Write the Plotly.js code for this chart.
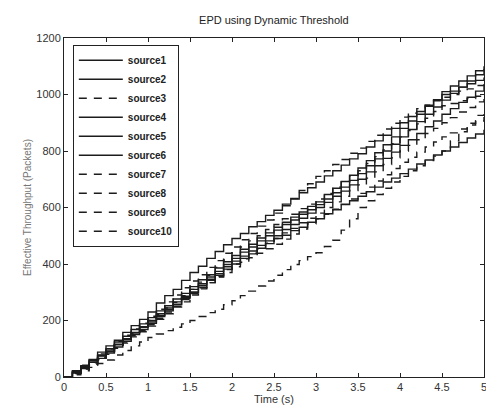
<!DOCTYPE html>
<html>
<head>
<meta charset="utf-8">
<script src="https://cdn.plot.ly/plotly-3.0.1.min.js"></script>
<style>html,body{margin:0;padding:0;background:#fff;}#chart{width:486px;height:410px;}</style>
</head>
<body>
<div id="chart"></div>
<script>
var time = [0,0.1,0.2,0.3,0.4,0.5,0.6,0.7,0.8,0.9,1,1.1,1.2,1.3,1.4,1.5,1.6,1.7,1.8,1.9,2,2.1,2.2,2.3,2.4,2.5,2.6,2.7,2.8,2.9,3,3.1,3.2,3.3,3.4,3.5,3.6,3.7,3.8,3.9,4,4.1,4.2,4.3,4.4,4.5,4.6,4.7,4.8,4.9,5];

var source1 = [0,18,40,62,88,110,130,158,182,204,230,262,288,310,342,370,392,420,444,468,490,508,532,550,572,590,612,630,652,670,690,712,730,750,772,790,814,836,856,880,900,922,940,962,980,1000,1012,1026,1038,1050,1060];
var source2 = [0,22,38,60,78,100,124,144,168,188,210,234,252,276,296,320,344,362,386,408,430,452,470,492,510,530,548,566,584,604,620,646,668,692,714,740,766,794,822,850,880,906,930,958,982,1010,1030,1048,1066,1084,1100];
var source3 = [0,12,30,50,70,90,112,134,154,178,200,222,244,264,288,310,336,360,388,414,440,460,482,500,522,540,560,576,596,612,630,650,672,690,712,730,756,780,804,826,850,872,896,916,940,960,968,978,986,994,1000];
var source4 = [0,14,36,52,74,90,114,132,158,176,200,224,244,266,286,310,330,354,374,398,420,442,460,482,500,520,540,556,576,592,610,630,652,672,696,720,748,772,800,824,850,876,904,930,956,980,1004,1026,1048,1070,1090];
var source5 = [0,20,34,58,76,95,116,136,156,178,195,218,238,258,282,300,324,346,366,390,410,428,446,466,482,500,522,540,562,580,600,618,640,658,680,700,726,748,774,796,820,840,862,886,906,930,950,972,990,1012,1030];
var source6 = [0,16,30,52,66,85,106,126,150,168,190,214,234,256,278,300,318,342,360,382,400,420,436,456,472,490,502,518,530,548,560,578,592,610,624,640,656,672,690,704,720,736,754,768,786,800,814,830,846,860,875];
var source7 = [0,20,42,58,82,100,126,148,170,190,215,240,266,290,316,340,362,388,412,438,460,486,508,534,556,580,606,632,660,684,710,730,752,770,792,810,834,856,878,898,920,934,950,962,978,990,1000,1012,1020,1032,1040];
var source8 = [0,12,28,42,62,80,102,120,142,160,180,204,224,248,266,290,312,334,356,380,400,418,438,454,474,490,510,526,546,562,580,600,620,640,660,680,704,726,752,776,800,820,840,862,880,900,918,938,954,974,990];
var source9 = [0,8,22,34,48,60,78,94,110,124,140,152,164,176,188,200,214,228,240,256,270,288,304,322,340,360,380,398,412,426,440,462,484,520,560,600,624,646,668,690,710,730,748,766,782,800,836,868,898,926,950];
var source10 = [0,14,30,46,68,85,104,124,146,164,185,208,230,250,274,295,316,334,354,370,390,406,422,438,454,470,488,506,524,542,560,576,594,612,630,650,672,694,716,738,760,778,796,814,832,850,864,878,892,906,920];

var seriesNames = ['source1','source2','source3','source4','source5','source6','source7','source8','source9','source10'];
var seriesValues = [source1,source2,source3,source4,source5,source6,source7,source8,source9,source10];
var seriesDash = ['solid','solid','dash','solid','solid','solid','dash','dash','dash','dash'];

var xTicks = [0,0.5,1,1.5,2,2.5,3,3.5,4,4.5,5];
var xTickText = ['0','0.5','1','1.5','2','2.5','3','3.5','4','4.5','5'];
var yTicks = [0,200,400,600,800,1000,1200];

var traces = seriesNames.map(function(n,i){
  return {
    x: time, y: seriesValues[i], name: n, type: 'scatter', mode: 'lines',
    line: {color: '#1c1c1c', width: 1.4, dash: seriesDash[i] === 'dash' ? '8px,7px' : 'solid', shape: 'hv'}
  };
});

var axisCommon = {
  showline: true, linecolor: '#222', linewidth: 1, mirror: 'ticks',
  ticks: 'inside', ticklen: 4, tickcolor: '#222', showgrid: false, zeroline: false,
  ticklabeloverflow: 'allow',
  tickfont: {family: 'Liberation Sans, Arial, sans-serif', size: 11, color: '#333'}
};

var layout = {
  width: 486, height: 410,
  margin: {l: 64, r: 2, t: 38, b: 33},
  paper_bgcolor: '#fff', plot_bgcolor: '#fff',
  title: {text: 'EPD using Dynamic Threshold', x: 0.5635, xanchor: 'center', y: 0.95, yanchor: 'middle',
          font: {family: 'Liberation Sans, Arial, sans-serif', size: 11, color: '#222'}},
  xaxis: Object.assign({}, axisCommon, {range: [0,5], tickvals: xTicks, ticktext: xTickText,
          title: {text: 'Time (s)', standoff: 2, font: {family: 'Liberation Sans, Arial, sans-serif', size: 11, color: '#333'}}}),
  yaxis: Object.assign({}, axisCommon, {range: [0,1200], tickvals: yTicks,
          title: {text: 'Effective Throughput (Packets)', standoff: 2, font: {family: 'Liberation Sans, Arial, sans-serif', size: 10, color: '#777'}}}),
  showlegend: true,
  legend: {x: 0.021, y: 0.98, xanchor: 'left', yanchor: 'top', bgcolor: '#fff', bordercolor: '#222', borderwidth: 1,
           font: {family: 'Liberation Sans, Arial, sans-serif', size: 10, color: '#222', weight: 'bold'},
           itemwidth: 44, entrywidth: 115, tracegroupgap: 0}
};

Plotly.newPlot('chart', traces, layout, {displayModeBar: false, staticPlot: true});
</script>
</body>
</html>
